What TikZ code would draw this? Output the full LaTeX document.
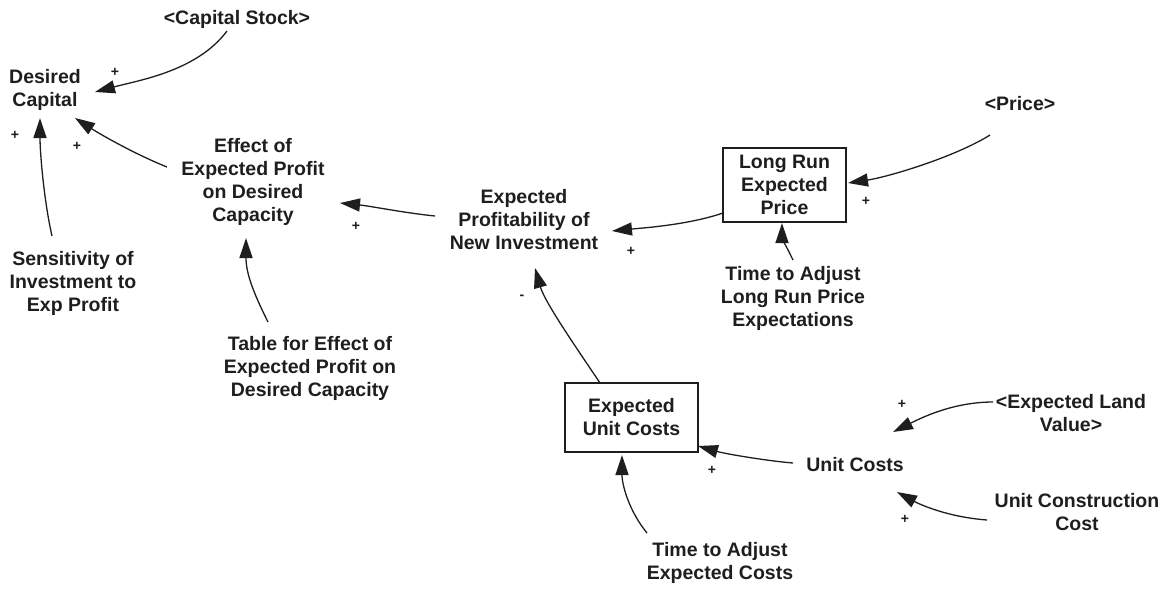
\documentclass[tikz,border=0pt]{standalone}
\usepackage{fontspec}
\setmainfont{Liberation Sans}
\usetikzlibrary{arrows.meta,calc}
\definecolor{ink}{HTML}{1E1E1E}
\begin{document}
\begin{tikzpicture}[x=1pt,y=-1pt,
  var/.style={font=\bfseries\fontsize{19.5}{23}\selectfont, align=center, text=ink, inner sep=0pt},
  level/.style={var, draw=ink, line width=1.4pt},
  link/.style={draw=ink, line width=1.3pt, -{Triangle[length=20pt,width=13pt]}},
  sign/.style={font=\bfseries\fontsize{14}{14}\selectfont, text=ink, inner sep=0pt}]
\useasboundingbox (0,0) rectangle (1165,592);

% variables
\node[var] (cs)   at (237,19)  {<Capital Stock>};
\node[var] (dc)   at (45,90)   {Desired\\Capital};
\node[var] (eff)  at (253,182) {Effect of\\Expected Profit\\on Desired\\Capacity};
\node[var] (epni) at (524,220) {Expected\\Profitability of\\New Investment};
\node[level, minimum width=123pt, minimum height=74pt] (lrep) at (784.5,185) {Long Run\\Expected\\Price};
\node[var] (price) at (1020,104) {<Price>};
\node[var] (tal)  at (793,298) {Time to Adjust\\Long Run Price\\Expectations};
\node[var] (sens) at (73,283)  {Sensitivity of\\Investment to\\Exp Profit};
\node[var] (tab)  at (310,368) {Table for Effect of\\Expected Profit on\\Desired Capacity};
\node[level, minimum width=133pt, minimum height=69pt] (euc) at (631.5,417.5) {Expected\\Unit Costs};
\node[var] (uc)   at (855,465) {Unit Costs};
\node[var] (elv)  at (1071,413) {<Expected Land\\Value>};
\node[var] (ucc)  at (1077,512) {Unit Construction\\Cost};
\node[var] (tac)  at (720,563) {Time to Adjust\\Expected Costs};

% causal links
\draw[link] ($(cs)+(-10,12)$) .. controls +(-30,40) and +(45,-12) .. ($(dc)+(50,2)$);
\draw[link] ($(sens)+(-21,-47)$) .. controls +(-8,-35) and +(0,35) .. ($(dc)+(-5,28)$);
\draw[link] ($(eff)+(-86,-15)$) .. controls +(-30,-12) and +(28,18) .. ($(dc)+(30,28)$);
\draw[link] ($(tab)+(-42,-46)$) .. controls +(-15,-30) and +(0,35) .. ($(eff)+(-7,56)$);
\draw[link] ($(epni)+(-89,-4)$) .. controls +(-30,-3) and +(30,3) .. ($(eff)+(87,21)$);
\draw[link] ($(lrep)+(-61.5,28)$) .. controls +(-35,12) and +(30,-3) .. ($(epni)+(88,11)$);
\draw[link] ($(price)+(-30,31)$) .. controls +(-35,22) and +(40,-6) .. ($(lrep)+(63.5,-2)$);
\draw[link] ($(tal)+(0,-38)$) .. controls +(-6,-12) and +(0,14) .. ($(lrep)+(-2.5,38)$);
\draw[link] ($(euc)+(-31.5,-34.5)$) .. controls +(-20,-30) and +(10,35) .. ($(epni)+(11,48)$);
\draw[link] ($(uc)+(-62,-2)$) .. controls +(-25,-2) and +(28,8) .. ($(euc)+(66.5,28.5)$);
\draw[link] ($(tac)+(-73,-30)$) .. controls +(-18,-22) and +(0,30) .. ($(euc)+(-9.5,37.5)$);
\draw[link] ($(elv)+(-78,-11)$) .. controls +(-40,0) and +(28,-14) .. ($(uc)+(38,-33)$);
\draw[link] ($(ucc)+(-90,8)$) .. controls +(-40,-3) and +(22,12) .. ($(uc)+(42,27)$);

% link polarities
\node[sign] (s1)  at (115,72)  {+};
\node[sign] (s2)  at (15,135)  {+};
\node[sign] (s3)  at (77,146)  {+};
\node[sign] (s4)  at (356,226) {+};
\node[sign] (s5)  at (631,251) {+};
\node[sign] (s6)  at (866,201) {+};
\node[sign] (s7)  at (522,297) {-};
\node[sign] (s8)  at (712,470) {+};
\node[sign] (s9)  at (902,404) {+};
\node[sign] (s10) at (905,519) {+};
\end{tikzpicture}
\end{document}
